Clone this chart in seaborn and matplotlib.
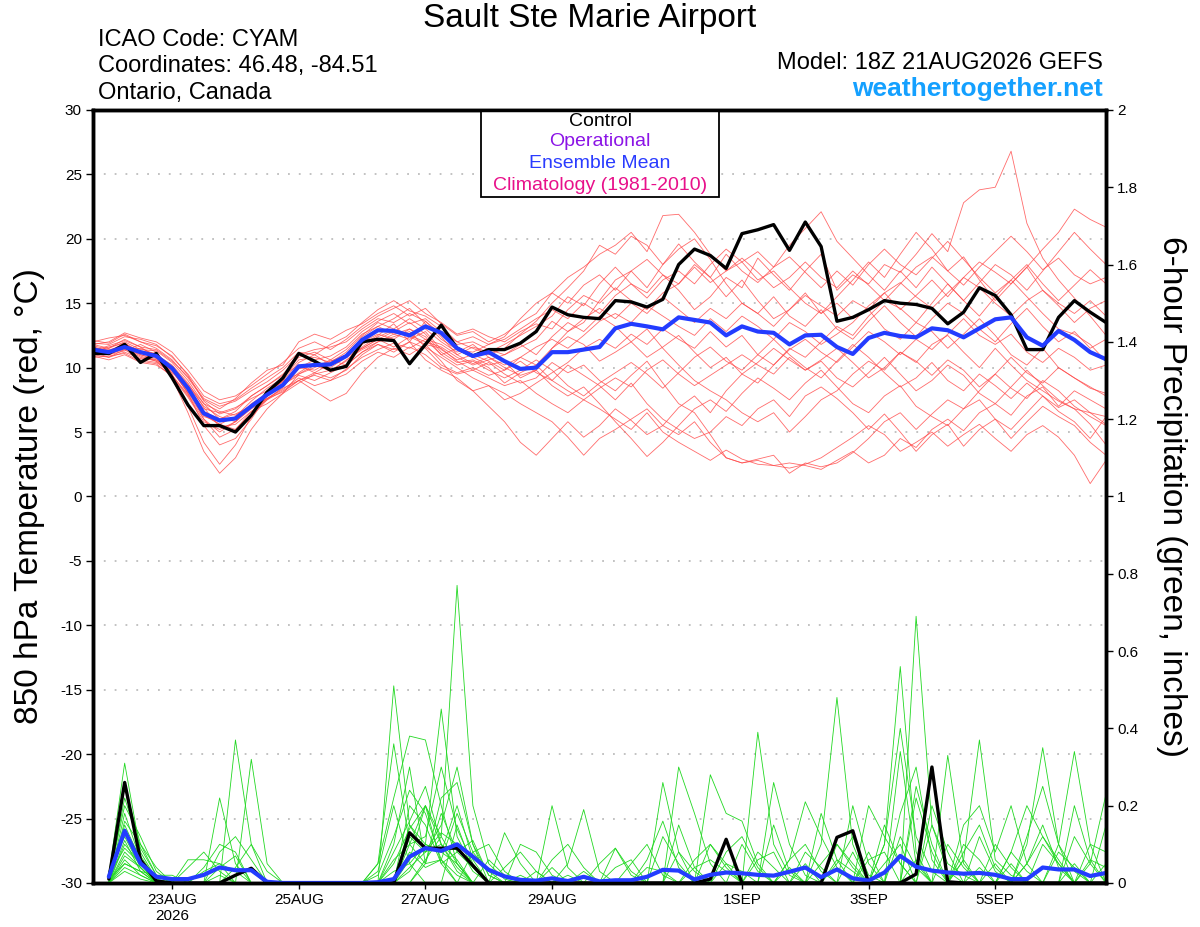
import pandas as pd
import matplotlib
matplotlib.use("Agg")
import matplotlib.pyplot as plt
from matplotlib.patches import Rectangle
import seaborn as sns

# ---- data (6-hourly from 18Z 21AUG2026) ----
start_time = "2026-08-21 18:00"
n_steps = 65

control_temp = [11.1, 11.1, 11.8, 10.4, 11.1, 9.2, 7.1, 5.5, 5.5, 5.0, 6.3, 8.1, 9.2,
                11.1, 10.5, 9.8, 10.1, 12.0, 12.2, 12.1, 10.3, 11.8, 13.3, 11.5, 10.9, 11.4, 11.4, 11.9, 12.8,
                14.7, 14.1, 13.9, 13.8, 15.2, 15.1, 14.7, 15.3, 18.0, 19.2, 18.7, 17.7, 20.4, 20.7, 21.1, 19.1, 21.3, 19.4,
                13.6, 13.9, 14.5, 15.2, 15.0, 14.9, 14.6, 13.4, 14.3, 16.2, 15.6, 14.1, 11.4, 11.4, 13.9, 15.2, 14.3, 13.5]

mean_temp = [11.4, 11.2, 11.6, 11.2, 10.9, 9.95, 8.4, 6.45, 5.9, 6.05, 7.0, 7.9, 8.65,
             10.1, 10.2, 10.25, 10.9, 12.15, 12.9, 12.85, 12.5, 13.2, 12.7, 11.5, 10.9, 11.2, 10.5, 9.9, 10.0,
             11.2, 11.2, 11.4, 11.6, 13.05, 13.4, 13.2, 12.97, 13.9, 13.7, 13.5, 12.5, 13.2, 12.8, 12.7, 11.8, 12.5, 12.55,
             11.6, 11.06, 12.3, 12.7, 12.45, 12.35, 13.05, 12.9, 12.35, 13.05, 13.75, 13.9, 12.35, 11.7, 12.85, 12.15, 11.2, 10.65]

temp_m01 = [11.8, 11.5, 12.2, 11.6, 10.8, 9.2, 6.5, 3.5, 1.8, 3.0, 5.2, 6.8, 8.0,
            9.5, 10.2, 9.8, 10.5, 11.8, 12.5, 13.4, 12.0, 13.6, 12.4, 11.0, 10.3, 10.8, 10.0, 9.4, 9.8,
            11.5, 12.8, 13.5, 15.2, 16.8, 17.5, 16.2, 18.0, 19.6, 18.2, 17.0, 15.5, 16.8, 15.2, 13.8, 14.5, 15.8, 14.2,
            15.5, 16.8, 18.2, 17.0, 18.8, 20.5, 19.2, 17.5, 18.6, 16.8, 15.2, 16.5, 17.8, 16.0, 14.8, 13.5, 14.6, 15.2]
temp_m02 = [11.5, 11.0, 11.3, 11.8, 11.2, 9.5, 7.0, 4.2, 2.5, 4.0, 6.2, 7.5, 8.2,
            9.0, 9.6, 10.3, 11.0, 11.5, 12.2, 12.8, 13.5, 12.6, 11.2, 10.4, 10.6, 10.0, 8.8, 9.6, 10.2,
            9.0, 8.2, 7.5, 6.8, 6.0, 5.2, 6.5, 5.0, 4.2, 3.5, 2.8, 3.6, 2.9, 2.5, 2.4, 2.6, 2.4, 2.1,
            2.8, 3.5, 2.6, 3.2, 4.5, 3.8, 5.2, 6.0, 5.1, 6.5, 7.2, 6.3, 7.8, 8.5, 7.0, 8.2, 7.5, 6.8]
temp_m03 = [11.2, 11.6, 11.9, 11.0, 10.6, 9.8, 8.0, 5.5, 4.0, 4.5, 6.0, 7.8, 9.0,
            10.4, 11.0, 10.2, 10.8, 12.4, 13.2, 12.6, 13.0, 12.2, 11.8, 11.0, 11.6, 11.2, 11.8, 12.5, 13.2,
            14.0, 15.5, 14.8, 16.5, 17.8, 16.5, 15.8, 17.2, 16.0, 14.5, 15.5, 17.0, 16.2, 18.5, 17.2, 16.0, 17.5, 18.8,
            16.0, 17.2, 16.5, 18.0, 17.4, 18.8, 20.4, 19.0, 22.8, 23.8, 24.0, 26.8, 21.2, 18.5, 16.8, 15.4, 14.0, 12.5]
temp_m04 = [12.0, 12.3, 12.5, 12.0, 11.5, 10.6, 9.2, 7.5, 6.8, 7.6, 8.8, 9.8, 10.2,
            12.0, 12.6, 12.2, 12.9, 13.4, 14.2, 14.8, 14.0, 14.6, 13.4, 12.5, 12.8, 12.0, 12.6, 13.5, 14.2,
            15.8, 17.0, 17.8, 18.8, 19.5, 20.5, 19.0, 21.8, 21.9, 20.5, 18.8, 17.5, 18.2, 16.8, 17.5, 16.2, 15.0, 14.2,
            15.0, 13.8, 14.5, 13.0, 12.2, 13.5, 12.8, 11.5, 12.6, 13.8, 12.5, 11.0, 10.2, 11.5, 10.0, 9.2, 8.5, 7.8]
temp_m05 = [11.0, 10.8, 11.4, 10.6, 10.4, 9.6, 8.6, 7.0, 6.2, 5.8, 6.8, 7.6, 8.4,
            9.0, 8.2, 7.4, 8.0, 9.6, 10.8, 11.5, 11.0, 11.8, 10.5, 9.0, 8.2, 7.0, 5.8, 4.2, 3.2,
            4.5, 5.8, 4.6, 5.5, 6.8, 5.9, 4.8, 5.5, 6.9, 7.8, 6.5, 8.2, 9.5, 8.8, 10.2, 11.5, 10.8, 12.0,
            13.2, 12.5, 14.0, 15.2, 14.6, 13.5, 15.0, 16.5, 15.2, 14.0, 15.5, 16.8, 15.5, 14.2, 13.0, 12.6, 11.8, 10.5]
temp_m06 = [11.3, 11.0, 11.7, 11.1, 11.0, 10.2, 8.8, 6.9, 5.4, 5.6, 6.6, 7.2, 8.0,
            8.8, 9.5, 9.8, 10.2, 11.2, 12.0, 12.4, 12.8, 11.6, 10.8, 10.0, 9.2, 8.6, 8.0, 7.2, 6.5,
            5.8, 4.6, 3.2, 4.5, 5.2, 6.0, 6.8, 5.5, 4.8, 5.8, 4.2, 3.0, 2.6, 2.8, 2.4, 2.2, 2.5, 3.0,
            3.8, 4.6, 5.5, 4.8, 3.5, 4.2, 5.0, 3.9, 4.8, 5.6, 4.5, 3.5, 4.8, 5.5, 4.6, 3.2, 1.0, 2.8]
temp_m07 = [11.6, 11.2, 11.5, 11.0, 10.7, 9.9, 8.3, 6.8, 6.5, 6.9, 7.6, 8.2, 8.9,
            10.0, 9.8, 10.5, 11.0, 12.0, 12.6, 12.2, 13.0, 12.4, 11.0, 11.5, 10.8, 10.2, 10.5, 9.2, 9.8,
            8.6, 7.8, 8.5, 7.2, 5.8, 4.5, 3.1, 4.2, 5.5, 6.8, 7.5, 6.6, 8.0, 9.2, 8.4, 7.5, 8.8, 9.8,
            8.5, 7.2, 6.5, 7.8, 8.6, 7.0, 6.2, 5.5, 6.8, 7.5, 6.0, 5.2, 6.5, 7.8, 6.6, 5.8, 4.5, 6.2]
temp_m08 = [10.9, 10.6, 11.0, 10.4, 10.2, 9.4, 7.8, 6.0, 5.0, 5.8, 7.2, 8.0, 8.6,
            9.6, 10.4, 10.0, 10.8, 11.5, 12.2, 11.6, 12.4, 11.8, 11.5, 10.5, 9.8, 10.4, 9.5, 8.8, 9.2,
            10.4, 9.6, 10.2, 9.0, 8.2, 9.4, 10.5, 8.8, 7.2, 6.5, 4.8, 3.0, 2.6, 2.9, 3.2, 1.8, 2.6, 2.3,
            2.6, 3.4, 4.5, 5.8, 6.5, 5.2, 6.4, 7.5, 6.8, 8.2, 9.5, 8.4, 7.6, 9.0, 8.2, 7.0, 6.2, 5.5]
temp_m09 = [11.9, 11.8, 12.4, 12.2, 11.8, 10.8, 9.5, 7.8, 7.2, 7.5, 8.4, 9.2, 10.0,
            11.2, 11.0, 11.8, 12.4, 13.5, 14.5, 15.2, 14.4, 14.0, 13.2, 12.0, 12.4, 11.8, 12.2, 13.0, 13.8,
            14.5, 13.8, 15.0, 14.2, 15.6, 16.5, 15.4, 16.8, 17.5, 16.5, 18.0, 19.2, 18.2, 19.0, 17.8, 19.5, 20.8, 22.1,
            19.8, 18.5, 17.2, 16.0, 17.5, 16.2, 17.8, 16.5, 15.2, 16.6, 18.0, 17.2, 16.0, 17.5, 19.0, 20.5, 19.2, 18.0]
temp_m10 = [11.4, 11.3, 11.8, 11.3, 11.1, 10.0, 8.5, 6.3, 5.6, 6.2, 7.4, 8.4, 9.2,
            10.6, 10.8, 10.4, 11.2, 12.5, 13.5, 13.0, 13.8, 13.0, 12.0, 11.2, 11.8, 10.8, 10.2, 10.8, 11.6,
            12.2, 11.5, 12.5, 13.6, 14.2, 13.5, 14.8, 14.0, 13.2, 12.5, 13.8, 12.8, 14.0, 13.2, 12.2, 13.5, 12.8, 11.8,
            12.6, 13.5, 14.8, 15.8, 14.5, 15.6, 16.8, 15.5, 17.0, 18.2, 17.4, 16.5, 17.8, 19.2, 20.5, 22.3, 21.5, 20.9]
temp_m11 = [11.7, 11.4, 11.6, 10.9, 10.5, 9.7, 8.1, 6.6, 6.0, 6.6, 7.8, 8.6, 9.4,
            10.2, 9.6, 9.2, 9.8, 11.0, 11.8, 11.2, 12.0, 11.5, 10.2, 9.6, 10.0, 9.4, 9.8, 10.8, 10.2,
            11.5, 12.4, 11.8, 10.5, 11.2, 12.0, 10.8, 11.6, 12.5, 11.2, 10.0, 10.8, 9.5, 10.4, 11.5, 10.6, 9.8, 10.5,
            9.2, 8.5, 9.6, 10.8, 9.5, 8.2, 9.0, 10.2, 9.4, 8.0, 7.2, 8.5, 9.8, 8.6, 7.5, 6.8, 5.6, 4.0]
temp_m12 = [11.1, 11.5, 12.0, 11.4, 11.3, 10.4, 9.0, 7.2, 6.0, 6.4, 7.0, 7.8, 8.8,
            10.0, 10.6, 10.9, 11.6, 12.8, 13.6, 14.2, 13.4, 13.8, 12.8, 12.0, 11.5, 11.0, 11.5, 12.6, 13.6,
            15.0, 16.2, 17.5, 19.5, 18.8, 20.2, 19.5, 18.0, 19.2, 20.0, 18.4, 16.5, 15.0, 14.2, 15.5, 14.0, 13.2, 14.5,
            13.0, 12.2, 13.6, 14.8, 13.5, 12.4, 13.8, 15.0, 14.2, 13.0, 12.0, 13.4, 14.6, 13.2, 12.0, 12.8, 11.5, 12.2]
temp_m13 = [11.5, 11.1, 11.4, 11.5, 11.0, 10.1, 8.7, 7.2, 6.6, 6.3, 7.1, 8.0, 9.0,
            9.5, 10.0, 10.6, 10.2, 11.6, 12.4, 12.9, 12.5, 12.0, 11.6, 10.8, 10.2, 10.6, 11.0, 11.8, 11.0,
            12.4, 13.5, 12.8, 14.0, 13.2, 12.0, 13.0, 11.5, 10.2, 9.0, 8.2, 7.5, 6.5, 5.8, 6.5, 5.0, 6.2, 7.5,
            8.2, 9.5, 10.5, 9.8, 11.2, 10.4, 11.8, 12.5, 11.2, 10.0, 11.5, 10.2, 9.0, 8.2, 7.4, 6.8, 6.5, 6.2]
temp_m14 = [11.8, 12.0, 12.7, 12.3, 12.0, 11.2, 9.8, 8.2, 7.5, 7.8, 8.6, 9.5, 10.4,
            11.5, 12.0, 11.4, 12.2, 13.2, 14.0, 14.6, 15.2, 14.2, 13.5, 12.6, 13.0, 12.4, 12.0, 12.8, 13.4,
            13.0, 14.5, 15.6, 15.0, 16.2, 15.2, 14.5, 15.8, 16.5, 17.8, 16.6, 17.5, 18.5, 17.4, 16.2, 17.0, 18.2, 17.0,
            16.2, 17.5, 16.4, 15.2, 16.5, 17.8, 18.6, 17.5, 16.4, 17.8, 19.0, 20.2, 19.0, 17.6, 18.5, 17.2, 16.5, 17.0]
temp_m15 = [11.2, 10.8, 11.2, 10.7, 10.6, 9.8, 8.0, 6.4, 5.6, 5.2, 6.4, 7.6, 8.3,
            9.2, 8.6, 9.0, 9.5, 10.5, 11.2, 10.8, 11.6, 11.0, 10.0, 9.5, 9.8, 9.2, 8.6, 9.0, 8.0,
            7.2, 6.5, 7.5, 8.4, 9.2, 8.5, 9.8, 10.6, 9.5, 8.6, 9.4, 10.2, 11.0, 10.2, 9.5, 10.8, 9.8, 10.6,
            11.5, 10.4, 9.2, 10.0, 11.2, 10.5, 9.4, 10.6, 9.8, 8.5, 9.5, 10.8, 9.6, 8.8, 10.0, 9.2, 8.4, 8.0]
temp_m16 = [11.6, 11.3, 11.9, 11.2, 10.9, 10.0, 8.4, 6.0, 4.6, 5.2, 6.6, 7.5, 8.5,
            9.9, 10.3, 9.7, 10.6, 11.4, 12.0, 12.6, 12.2, 12.8, 11.4, 10.6, 11.0, 10.5, 9.8, 10.5, 9.6,
            9.0, 10.2, 9.4, 8.6, 7.5, 8.8, 7.2, 6.0, 5.2, 4.5, 5.0, 6.2, 5.5, 6.8, 7.5, 6.2, 7.8, 8.5,
            7.6, 6.5, 5.2, 6.4, 5.0, 3.5, 4.8, 5.6, 3.9, 5.2, 6.0, 4.5, 5.8, 7.0, 6.2, 5.5, 4.2, 3.2]
temp_m17 = [11.3, 11.7, 12.1, 11.6, 11.4, 10.5, 9.3, 7.6, 7.0, 7.4, 8.2, 8.9, 9.8,
            11.0, 11.4, 11.6, 12.0, 13.0, 13.8, 13.5, 14.2, 13.6, 12.6, 11.8, 12.0, 11.4, 11.0, 11.6, 12.2,
            13.6, 12.8, 13.8, 14.6, 13.8, 15.0, 14.2, 15.5, 14.5, 13.5, 14.6, 13.8, 15.0, 14.2, 13.2, 14.5, 15.6, 14.8,
            14.0, 15.2, 14.5, 15.8, 16.6, 15.5, 14.6, 15.8, 17.0, 16.2, 15.0, 14.0, 15.2, 16.0, 15.0, 14.2, 15.2, 14.0]
temp_m18 = [10.8, 10.9, 11.1, 10.5, 10.3, 9.3, 7.7, 5.8, 5.2, 5.8, 6.9, 7.8, 8.7,
            9.4, 9.0, 9.6, 10.2, 11.2, 11.8, 11.4, 12.0, 10.6, 9.8, 9.2, 8.2, 8.6, 7.5, 8.0, 8.8,
            9.6, 10.4, 11.5, 12.2, 11.5, 12.6, 11.8, 13.0, 12.2, 11.5, 12.8, 11.6, 12.5, 11.0, 10.2, 11.4, 12.2, 11.2,
            10.4, 11.6, 12.8, 12.0, 11.0, 12.2, 11.4, 12.6, 13.8, 12.5, 11.8, 12.6, 11.2, 10.4, 11.5, 10.8, 9.8, 10.2]
temp_m19 = [12.1, 11.9, 12.6, 12.0, 11.7, 10.9, 9.4, 7.4, 6.4, 6.8, 7.8, 8.6, 9.5,
            10.8, 11.2, 10.6, 11.4, 12.6, 13.2, 13.8, 14.6, 13.4, 12.2, 11.4, 11.2, 11.8, 12.4, 13.8, 15.0,
            15.8, 15.0, 16.4, 17.2, 16.0, 17.5, 18.4, 17.2, 16.5, 18.0, 17.0, 18.8, 17.5, 16.6, 17.8, 18.6, 17.4, 16.2,
            17.5, 16.4, 18.0, 19.2, 18.0, 17.2, 18.5, 19.8, 18.4, 17.0, 15.8, 16.8, 18.0, 16.5, 15.2, 16.4, 17.6, 16.5]
temp_m20 = [11.4, 11.0, 11.5, 10.8, 10.5, 9.4, 7.9, 6.2, 5.8, 6.0, 6.9, 7.6, 8.1,
            9.0, 9.4, 9.0, 9.9, 10.8, 11.4, 11.9, 11.5, 12.2, 11.0, 10.2, 10.5, 9.8, 9.2, 9.8, 10.6,
            9.8, 8.6, 7.8, 8.8, 9.6, 10.4, 9.5, 8.4, 9.6, 10.8, 11.6, 10.5, 9.8, 11.0, 12.2, 11.0, 10.0, 9.2,
            10.5, 11.8, 10.8, 9.6, 8.5, 9.2, 10.4, 9.0, 8.2, 9.5, 8.6, 7.6, 8.8, 7.8, 6.9, 7.5, 6.5, 5.6]

# 6-hour precipitation (inches), first value valid 00Z 22AUG
control_precip = [.01, .26, .06, .005, 0, 0, 0, 0, .02, .038, 0, 0, 0, 0, 0, 0,
                  0, 0, 0, .13, .09, .09, .09, .045, 0, 0, 0, 0, 0, 0, 0, 0,
                  0, 0, 0, 0, 0, 0, .01, .113, 0, 0, 0, 0, 0, 0, .118, .135,
                  0, 0, 0, .023, .30, .003, 0, 0, 0, 0, 0, 0, 0, 0, 0, 0]
mean_precip = [.016, .135, .051, .016, .01, .01, .021, .04, .033, .033, .003, 0, 0, 0, 0, 0,
               0, .002, .01, .068, .09, .083, .10, .068, .034, .017, .008, .006, .012, .005, .016, .004,
               .007, .007, .016, .034, .032, .009, .021, .027, .025, .021, .019, .029, .04, .015, .035, .012,
               .006, .027, .07, .042, .032, .027, .024, .026, .021, .01, .01, .04, .035, .035, .018, .026]

prcp_m01 = [.02, .31, .08, .01, 0, 0, 0, 0, 0, 0, 0, 0, 0, 0, 0, 0,
            0, 0, .05, .14, .2, .1, .06, 0, 0, 0, 0, 0, 0, .02, 0, 0,
            0, 0, 0, .26, .08, 0, 0, 0, 0, 0, 0, 0, .05, 0, 0, 0,
            0, .1, .4, .12, .03, 0, 0, 0, 0, 0, .05, .12, .06, 0, 0, 0]
prcp_m02 = [.01, .2, .12, .03, 0, 0, 0, .22, .05, 0, 0, 0, 0, 0, 0, 0,
            0, 0, .51, .15, .08, .1, .04, 0, 0, 0, 0, 0, .2, .04, 0, 0,
            0, 0, 0, 0, 0, 0, 0, 0, 0, .39, .1, .02, 0, 0, 0, 0,
            0, 0, 0, .69, .15, .03, 0, 0, 0, 0, 0, 0, 0, 0, .05, .23]
prcp_m03 = [0, .15, .06, 0, 0, 0, 0, 0, .37, .1, 0, 0, 0, 0, 0, 0,
            0, 0, 0, .03, .1, .45, .12, .04, 0, 0, 0, 0, 0, 0, 0, 0,
            .09, .02, 0, 0, 0, 0, .28, .18, .16, .05, 0, 0, 0, .1, .48, .1,
            0, 0, 0, 0, 0, 0, .06, .37, .06, .02, 0, 0, 0, 0, 0, 0]
prcp_m04 = [0, .1, .05, 0, 0, .06, .06, .05, .03, 0, 0, 0, 0, 0, 0, 0,
            0, 0, 0, .06, .2, .12, .77, .2, .05, .01, 0, 0, 0, 0, 0, 0,
            0, 0, 0, 0, .3, .18, .05, 0, 0, 0, 0, 0, 0, 0, .05, .12,
            .02, 0, 0, 0, 0, .33, .05, 0, 0, 0, .1, .35, .1, .03, 0, 0]
prcp_m05 = [.03, .12, .04, 0, 0, 0, 0, 0, 0, .32, .05, 0, 0, 0, 0, 0,
            0, .05, .22, .38, .37, .2, .05, 0, 0, .13, .05, 0, 0, 0, 0, 0,
            0, 0, 0, 0, 0, 0, 0, 0, 0, 0, .26, .1, .02, 0, 0, 0,
            0, .1, .56, .08, 0, 0, 0, 0, 0, .08, .2, .12, .05, 0, 0, 0]
prcp_m06 = [0, .08, .04, 0, 0, 0, .04, .1, .08, 0, 0, 0, 0, 0, 0, 0,
            0, 0, 0, .12, .08, .15, .3, .1, 0, 0, 0, 0, 0, .05, .19, .03,
            0, 0, 0, 0, 0, 0, 0, 0, 0, 0, 0, .06, .21, .12, .04, 0,
            0, 0, .34, .05, 0, 0, .08, .15, .04, 0, 0, 0, .1, .34, .1, 0]
prcp_m07 = [0, .06, .02, 0, 0, 0, 0, 0, 0, 0, 0, 0, 0, 0, 0, 0,
            0, 0, .1, .3, .05, .06, .02, 0, 0, 0, 0, 0, 0, 0, 0, 0,
            0, 0, .06, .16, .04, 0, 0, 0, 0, 0, 0, 0, 0, 0, 0, .2,
            .05, 0, 0, 0, .15, .05, .02, 0, 0, 0, 0, 0, 0, .2, .06, 0]
prcp_m08 = [.01, .05, .03, .02, .02, 0, 0, .08, .12, .06, 0, 0, 0, 0, 0, 0,
            0, 0, 0, 0, .05, .22, .26, .1, .02, 0, .1, .08, .02, 0, 0, 0,
            0, 0, 0, 0, 0, 0, 0, .08, .12, .04, 0, 0, 0, .18, .06, 0,
            0, 0, 0, 0, 0, 0, .15, .2, .08, .2, .05, 0, 0, 0, 0, 0]
prcp_m09 = [0, .04, .02, 0, 0, 0, 0, 0, 0, 0, 0, 0, 0, 0, 0, 0,
            0, .02, .12, .24, .18, .06, 0, .08, .1, .03, 0, 0, 0, 0, 0, .05,
            .09, .03, 0, 0, 0, .06, .1, .05, 0, 0, 0, .04, 0, 0, 0, 0,
            .2, .12, .05, 0, 0, 0, 0, 0, 0, 0, .12, .25, .1, 0, 0, 0]
prcp_m10 = [0, .16, .1, .02, 0, 0, 0, .04, .07, 0, 0, 0, 0, 0, 0, 0,
            0, 0, .08, .16, .25, .1, .03, 0, 0, .04, .08, .03, 0, 0, 0, 0,
            0, 0, 0, .12, .05, 0, 0, 0, 0, 0, 0, 0, 0, 0, .1, .04,
            0, 0, 0, .22, .08, 0, 0, 0, .1, .04, 0, 0, 0, 0, 0, 0]
prcp_m11 = [.02, .09, .05, 0, 0, .04, .08, .03, 0, 0, 0, 0, 0, 0, 0, 0,
            0, 0, 0, .1, .05, .18, .08, .11, .02, 0, 0, 0, 0, 0, 0, 0,
            0, .05, .1, .02, 0, 0, 0, 0, 0, 0, .15, .03, 0, 0, 0, 0,
            0, 0, 0, .25, .1, 0, 0, 0, 0, 0, .05, .15, .04, 0, 0, 0]
prcp_m12 = [0, .18, .06, 0, 0, 0, 0, 0, .04, .1, .03, 0, 0, 0, 0, 0,
            0, .05, .36, .1, .12, .3, .14, .05, 0, 0, 0, 0, .06, .1, .04, 0,
            0, 0, 0, 0, 0, 0, 0, 0, .1, .03, 0, 0, 0, 0, 0, 0,
            0, .15, .05, 0, 0, 0, 0, .12, .03, 0, 0, 0, 0, 0, 0, .15]
prcp_m13 = [0, .07, .04, 0, 0, 0, 0, 0, 0, 0, 0, 0, 0, 0, 0, 0,
            0, 0, 0, .2, .15, .05, .08, .04, 0, 0, 0, 0, 0, 0, 0, 0,
            0, 0, 0, 0, 0, .04, .06, .03, 0, 0, 0, 0, 0, .05, .1, .05,
            0, 0, 0, 0, 0, .1, .04, 0, 0, 0, 0, 0, 0, .12, .05, 0]
prcp_m14 = [.01, .13, .07, .01, 0, 0, .03, .05, 0, 0, 0, 0, 0, 0, 0, 0,
            0, 0, .03, .05, .1, .08, .2, .06, 0, 0, 0, 0, .04, 0, 0, 0,
            0, 0, 0, 0, .08, .03, 0, 0, 0, 0, 0, .06, .1, .03, 0, 0,
            0, 0, .18, .3, .06, 0, 0, 0, 0, .08, .03, 0, 0, 0, 0, 0]
prcp_m15 = [0, .22, .09, .02, 0, 0, 0, 0, 0, 0, 0, 0, 0, 0, 0, 0,
            0, 0, 0, 0, .06, .12, .05, 0, 0, 0, .02, 0, 0, 0, 0, 0,
            .04, .06, 0, 0, 0, 0, 0, 0, 0, .06, .08, 0, 0, 0, 0, 0,
            .06, .08, 0, 0, 0, 0, .1, .06, 0, 0, 0, 0, .08, .04, 0, 0]
prcp_m16 = [0, .05, .03, 0, 0, 0, 0, 0, 0, 0, 0, 0, 0, 0, 0, 0,
            0, 0, .06, .1, .2, .05, 0, 0, .06, .02, 0, 0, 0, 0, 0, 0,
            0, 0, 0, 0, 0, 0, .1, .04, 0, 0, 0, 0, 0, 0, 0, .08,
            0, 0, 0, 0, .2, .08, 0, 0, 0, 0, 0, 0, 0, 0, .1, .08]
prcp_m17 = [0, .11, .03, 0, 0, 0, 0, 0, 0, 0, 0, 0, 0, 0, 0, 0,
            0, 0, 0, .04, .08, .13, .1, .03, 0, 0, 0, 0, 0, 0, 0, 0,
            0, 0, .04, .03, 0, 0, 0, 0, 0, 0, 0, 0, .08, .04, 0, 0,
            0, 0, .12, .04, 0, 0, 0, 0, .05, 0, 0, .1, .05, 0, 0, 0]
prcp_m18 = [0, .03, .01, 0, 0, 0, 0, 0, 0, 0, 0, 0, 0, 0, 0, 0,
            0, .03, .2, .05, 0, 0, .15, .04, 0, 0, 0, 0, 0, 0, .03, 0,
            0, 0, 0, 0, 0, 0, 0, .05, .03, 0, 0, 0, 0, 0, .06, .03,
            0, 0, 0, 0, 0, 0, 0, .04, 0, 0, 0, 0, 0, 0, .06, .04]
prcp_m19 = [0, .25, .1, .04, 0, 0, 0, 0, .02, .04, 0, 0, 0, 0, 0, 0,
            0, 0, 0, .08, .04, .06, .18, .08, .03, 0, 0, 0, 0, 0, 0, 0,
            0, 0, 0, 0, .15, .04, 0, 0, 0, 0, 0, 0, 0, 0, 0, 0,
            0, .05, .1, 0, 0, 0, .06, 0, 0, 0, 0, 0, 0, .05, 0, 0]
prcp_m20 = [0, .14, .05, 0, 0, 0, 0, .02, 0, 0, 0, 0, 0, 0, 0, 0,
            0, 0, 0, .15, .1, .08, .05, 0, 0, 0, 0, .03, 0, 0, 0, 0,
            0, 0, 0, 0, 0, 0, 0, 0, 0, .08, .04, 0, 0, 0, 0, 0,
            .08, 0, 0, .06, 0, 0, 0, 0, 0, .05, 0, 0, 0, 0, 0, .05]

temp_members = [temp_m01, temp_m02, temp_m03, temp_m04, temp_m05, temp_m06, temp_m07,
                temp_m08, temp_m09, temp_m10, temp_m11, temp_m12, temp_m13, temp_m14,
                temp_m15, temp_m16, temp_m17, temp_m18, temp_m19, temp_m20]
prcp_members = [prcp_m01, prcp_m02, prcp_m03, prcp_m04, prcp_m05, prcp_m06, prcp_m07,
                prcp_m08, prcp_m09, prcp_m10, prcp_m11, prcp_m12, prcp_m13, prcp_m14,
                prcp_m15, prcp_m16, prcp_m17, prcp_m18, prcp_m19, prcp_m20]

tick_dates = ["2026-08-23", "2026-08-25", "2026-08-27", "2026-08-29",
              "2026-09-01", "2026-09-03", "2026-09-05"]
tick_labels = ["23AUG\n2026", "25AUG", "27AUG", "29AUG", "1SEP", "3SEP", "5SEP"]


def main():
    sns.set_style("ticks")
    plt.rcParams["font.family"] = ["Liberation Sans", "DejaVu Sans"]
    plt.rcParams["axes.unicode_minus"] = False
    for key in ("text.color", "axes.labelcolor", "xtick.color", "ytick.color"):
        plt.rcParams[key] = "black"

    times = pd.date_range(start_time, periods=n_steps, freq="6h")
    ptimes = times[1:]

    temp_df = pd.concat([pd.DataFrame({"time": times, "temp": m, "member": k})
                         for k, m in enumerate(temp_members)], ignore_index=True)
    prcp_df = pd.concat([pd.DataFrame({"time": ptimes, "precip": m, "member": k})
                         for k, m in enumerate(prcp_members)], ignore_index=True)

    fig = plt.figure(figsize=(12, 9.27), dpi=100)
    ax = fig.add_axes([0.0775, 0.0475, 0.8442, 0.8339])
    ax2 = ax.twinx()

    # temperature plume
    sns.lineplot(data=temp_df, x="time", y="temp", units="member", estimator=None,
                 color="#ff4646", alpha=0.8, linewidth=0.6, ax=ax, legend=False)
    sns.lineplot(x=times, y=control_temp, color="black", linewidth=2.4, ax=ax)
    sns.lineplot(x=times, y=mean_temp, color="#233cff", linewidth=3.0, ax=ax)

    # precipitation plume
    sns.lineplot(data=prcp_df, x="time", y="precip", units="member", estimator=None,
                 color="#22d822", linewidth=0.6, ax=ax2, legend=False)
    sns.lineplot(x=ptimes, y=control_precip, color="black", linewidth=2.4, ax=ax2)
    sns.lineplot(x=ptimes, y=mean_precip, color="#233cff", linewidth=3.0, ax=ax2)

    ax.set_xlim(times[0], times[-1])
    ax.set_ylim(-30, 30)
    ax2.set_ylim(0, 2)
    ax.set_yticks(range(-30, 31, 5))
    ax2.set_yticks([i / 5 for i in range(11)])
    ax2.set_yticklabels(["{:g}".format(i / 5) for i in range(11)])
    ax.set_xticks(pd.to_datetime(tick_dates))
    ax.set_xticklabels(tick_labels)
    for a in (ax, ax2):
        a.set_xlabel("")
        a.set_ylabel("")
        for s in a.spines.values():
            s.set_linewidth(2.5)
            s.set_color("black")
    ax.set_axisbelow(True)
    ax.grid(axis="y", color="#bdbdbd", linestyle=(0, (1.0, 5.0)), linewidth=1.3)
    ax.grid(axis="x", visible=False)
    ax.tick_params(axis="y", direction="out", length=5, width=1, labelsize=11, pad=3)
    ax2.tick_params(axis="y", direction="out", length=5, width=1, labelsize=11, pad=3)
    ax.tick_params(axis="x", direction="out", length=4, width=1, labelsize=11, pad=3)

    # legend box
    ax.add_patch(Rectangle((0.383, 0.8875), 0.235, 0.1125, transform=ax.transAxes,
                           facecolor="white", edgecolor="black", linewidth=1.3,
                           zorder=5, clip_on=False))
    H = 927.0
    legend_items = [("Control", "black", 121), ("Operational", "#8b14e6", 142),
                    ("Ensemble Mean", "#2a3cff", 163), ("Climatology (1981-2010)", "#e8108a", 185)]
    for txt, col, ypx in legend_items:
        fig.text(600 / 1200, 1 - ypx / H, txt, color=col, fontsize=14, ha="center", va="center")

    # titles and annotations
    fig.text(590 / 1200, 1 - 19 / H, "Sault Ste Marie Airport", fontsize=24, ha="center", va="center")
    fig.text(98 / 1200, 1 - 40 / H, "ICAO Code: CYAM", fontsize=17, ha="left", va="center")
    fig.text(98 / 1200, 1 - 66 / H, "Coordinates: 46.48, -84.51", fontsize=17, ha="left", va="center")
    fig.text(98 / 1200, 1 - 93 / H, "Ontario, Canada", fontsize=17, ha="left", va="center")
    fig.text(1103 / 1200, 1 - 63 / H, "Model: 18Z 21AUG2026 GEFS", fontsize=17, ha="right", va="center")
    fig.text(1103 / 1200, 1 - 89 / H, "weathertogether.net", fontsize=19, fontweight="bold",
             color="#14a0ff", ha="right", va="center")
    fig.text(30 / 1200, 1 - 496 / H, "850 hPa Temperature (red, \u00b0C)", fontsize=24,
             rotation=90, ha="center", va="center")
    fig.text(1172 / 1200, 1 - 496 / H, "6-hour Precipitation (green, inches)", fontsize=24,
             rotation=270, ha="center", va="center")

    fig.savefig("out.png", dpi=100, facecolor="white")


if __name__ == "__main__":
    main()
